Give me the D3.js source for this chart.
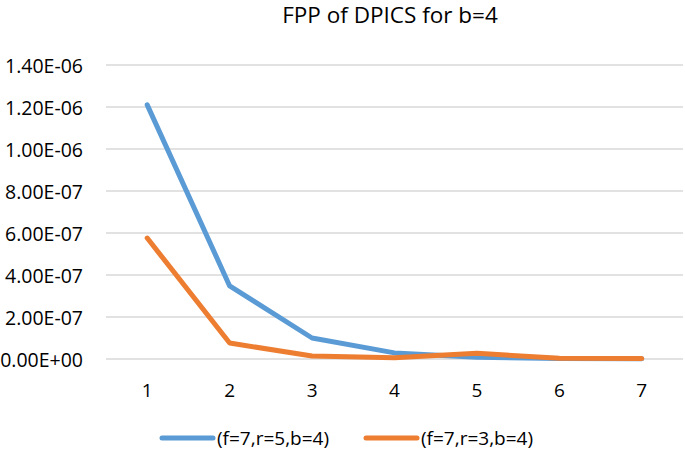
<!DOCTYPE html>
<html><head><meta charset="utf-8">
<script src="https://cdn.jsdelivr.net/npm/d3@7"></script>
<style>body{margin:0;background:#fff;} svg{display:block;font-family:"Open Sans",sans-serif;}</style>
</head><body>
<script>
const categories = ["1","2","3","4","5","6","7"];
const seriesNames = ["(f=7,r=5,b=4)", "(f=7,r=3,b=4)"];
const seriesA = [1.21e-6, 3.48e-7, 1.0e-7, 2.9e-8, 8e-9, 2e-9, 1e-9];
const seriesB = [5.76e-7, 7.6e-8, 1.4e-8, 6e-9, 2.7e-8, 3e-9, 2e-9];
const yTicks = [0, 2e-7, 4e-7, 6e-7, 8e-7, 1e-6, 1.2e-6, 1.4e-6];
const colors = ["#5B9BD5", "#ED7D31"];
const title = "FPP of DPICS for b=4";

const W = 685, H = 452;
const svg = d3.select("body").append("svg").attr("width", W).attr("height", H);
const x = d3.scaleBand().domain(categories).range([106, 683]);
const y = d3.scaleLinear().domain([0, 1.4e-6]).range([359, 65]);

const fmt = v => { const s = v.toExponential(2).toUpperCase(); return s.replace(/E([+-])(\d)$/, "E$10$2"); };

svg.append("g").selectAll("line").data(yTicks).join("line")
  .attr("x1", 106).attr("x2", 683).attr("y1", d => y(d)).attr("y2", d => y(d))
  .attr("stroke", "#D9D9D9").attr("stroke-width", 1.3);

const yAxis = d3.axisLeft(y).tickValues(yTicks).tickFormat(fmt).tickSize(0).tickPadding(0);
const gy = svg.append("g").attr("transform", "translate(83,0)").call(yAxis);
gy.select(".domain").remove();
gy.selectAll("text").attr("font-size", 19.5).attr("fill", "#000").attr("font-family", "'Open Sans',sans-serif").attr("dy", "0.36em");

const xAxis = d3.axisBottom(x).tickSize(0).tickPadding(0);
const gx = svg.append("g").attr("transform", "translate(0,0)").call(xAxis);
gx.select(".domain").remove();
gx.selectAll("text").attr("font-size", 19).attr("fill", "#000").attr("font-family", "'Open Sans',sans-serif")
  .attr("dy", null).attr("y", 397);

const line = d3.line().x((d, i) => x(categories[i]) + x.bandwidth() / 2).y(d => y(d));
[seriesA, seriesB].forEach((s, k) => {
  svg.append("path").datum(s).attr("d", line).attr("fill", "none")
    .attr("stroke", colors[k]).attr("stroke-width", 5)
    .attr("stroke-linejoin", "round").attr("stroke-linecap", "round");
});

svg.append("text").attr("x", 390).attr("y", 23).attr("text-anchor", "middle")
  .attr("font-size", 22.5).attr("fill", "#000").text(title);

const legX = [162, 366];
seriesNames.forEach((n, k) => {
  const g = svg.append("g");
  g.append("line").attr("x1", legX[k]).attr("x2", legX[k] + 51).attr("y1", 438).attr("y2", 438)
    .attr("stroke", colors[k]).attr("stroke-width", 5).attr("stroke-linecap", "round");
  g.append("text").attr("x", legX[k] + 55).attr("y", 445).attr("font-size", 19).attr("fill", "#000").text(n);
});
</script>
</body></html>
